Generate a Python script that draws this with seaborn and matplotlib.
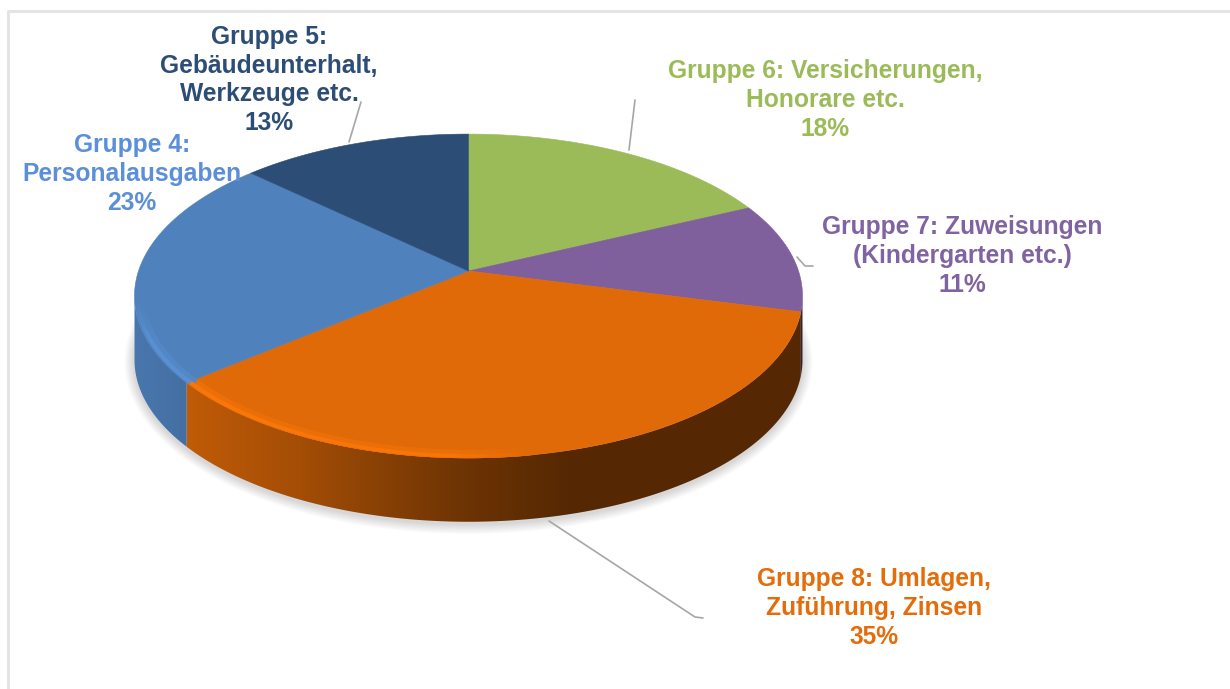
import numpy as np
import seaborn as sns
import matplotlib
matplotlib.use('Agg')
import matplotlib.pyplot as plt
from matplotlib.patches import Polygon

# slices, clockwise from 12 o'clock
groups = ['Gruppe 6', 'Gruppe 7', 'Gruppe 8', 'Gruppe 4', 'Gruppe 5']
shares = [18, 11, 35, 23, 13]
slice_colors = ['#9bbb59', '#7f5f9c', '#e06a08', '#4f81bd', '#2c4d75']

label_texts = ['Gruppe 6: Versicherungen,\nHonorare etc.\n18%',
               'Gruppe 7: Zuweisungen\n(Kindergarten etc.)\n11%',
               'Gruppe 8: Umlagen,\nZuführung, Zinsen\n35%',
               'Gruppe 4:\nPersonalausgaben\n23%',
               'Gruppe 5:\nGebäudeunterhalt,\nWerkzeuge etc.\n13%']
label_colors = ['#9bbb59', '#8064a2', '#e46c0a', '#5b8fd9', '#2c4d75']
label_x = [825, 962, 874, 132, 269]
label_y = [100, 256, 608, 174, 80]

leader_x = [[629, 635], [797, 805, 813], [549, 695, 703], [], [349, 361]]
leader_y = [[150, 100], [257, 266, 266], [521, 617, 618], [], [142, 102]]

# tilted disc, pixels
cx, cy, rx, ry, tilt = 468.5, 271, 330, 158, 0.154
depth = 64

# side shading and rim light depend on screen x
shade_x = [134, 195, 300, 400, 470, 570, 810]
shade_f = [0.92, 0.85, 0.73, 0.58, 0.48, 0.38, 0.38]
rim_x = [134, 450, 530, 810]
rim_f = [0.12, 0.10, 0.0, 0.0]


def project(deg, r=1.0):
    t = np.radians(deg)
    u = r * np.sin(t)
    v = r * np.cos(t)
    w = 1 + tilt * v
    return cx + rx * u / w, cy - ry * v / w


def scaled(color, f):
    return tuple(min(c * f, 1) for c in color)


sns.set_theme(style='white')
plt.rcParams['font.family'] = ['Liberation Sans', 'DejaVu Sans']
palette = sns.color_palette(slice_colors)

fig = plt.figure(figsize=(12.3, 6.89), dpi=100)
ax = fig.add_axes([0, 0, 1, 1])
ax.axis('off')

# frame of the screenshot
ax.plot([8, 8, 1230], [689, 10.5, 10.5], color='#e4e4e4', lw=2.2, zorder=1)

# soft shadow below the disc
t = np.radians(np.arange(0, 361, 2))
for k in range(10, 0, -1):
    ax.fill(cx + (334 + k) * np.sin(t), 296 + depth + 2 + (162 + k) * np.cos(t),
            color='black', alpha=0.014, lw=0, zorder=2)

edges = 360 * np.cumsum([0] + shares) / np.sum(shares)
starts, stops = edges[:-1], edges[1:]

# side wall, only the arc that faces the viewer
side_a = np.degrees(np.arccos(-tilt))
side_b = 360 - side_a
pixel_x = np.arange(0, 1230)
for a, b, color in zip(starts, stops, palette):
    a, b = max(a, side_a), min(b, side_b)
    if a >= b:
        continue
    xs, ys = project(np.linspace(a, b, 200))
    outline = np.c_[np.r_[xs, xs[::-1]], np.r_[ys, ys[::-1] + depth]]
    f = np.interp(pixel_x, shade_x, shade_f)
    strip = np.clip(np.outer(f, color), 0, 1)[np.newaxis, :, :]
    img = ax.imshow(strip, extent=(0, 1230, 689, 0), aspect='auto', zorder=3,
                    interpolation='bilinear')
    img.set_clip_path(Polygon(outline, closed=True, transform=ax.transData))

ax.set_xlim(0, 1230)
ax.set_ylim(689, 0)

# top face
for a, b, color in zip(starts, stops, palette):
    xs, ys = project(np.linspace(a, b, 200))
    ax.fill(np.r_[cx, xs], np.r_[cy, ys], color=color, lw=0.4, ec=color, zorder=4)

# lit rim along the near edge, a wide faint band under a narrow one
for r, width, strength, z in [(0.983, 6, 0.45, 5), (0.991, 2.5, 1.0, 5.5)]:
    for a, b, color in zip(starts, stops, palette):
        steps = np.linspace(a, b, int((b - a) * 2) + 2)
        for d0, d1 in zip(steps[:-1], steps[1:]):
            xs, ys = project(np.array([d0, d1]), r)
            fade = np.clip((ys.mean() - 300) / 40, 0, 1)
            f = 1 + strength * fade * np.interp(xs.mean(), rim_x, rim_f)
            if f > 1:
                ax.plot(xs, ys, color=scaled(color, f), lw=width,
                        solid_capstyle='projecting', zorder=z)

# labels and leader lines
for txt, c, x, y, lx, ly in zip(label_texts, label_colors, label_x, label_y, leader_x, leader_y):
    ax.text(x, y, txt, color=c, ha='center', va='center', fontsize=17.7,
            fontweight='bold', linespacing=1.25, zorder=7)
    if lx:
        ax.plot(lx, ly, color='#a6a6a6', lw=1.2, zorder=6)

fig.savefig('out.png', dpi=100, facecolor='white')
